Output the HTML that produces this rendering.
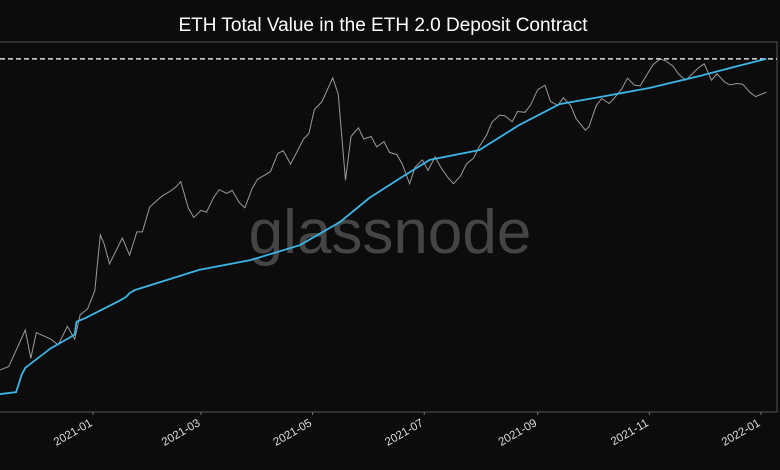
<!DOCTYPE html>
<html><head><meta charset="utf-8"><style>
html,body{margin:0;padding:0;background:#0c0c0d;}
svg{display:block;font-family:"Liberation Sans","DejaVu Sans",sans-serif;}
</style></head><body>
<svg id="chart" width="780" height="470" viewBox="0 0 780 470" xmlns="http://www.w3.org/2000/svg">
<rect width="780" height="470" fill="#0c0c0d"/>
<text x="383" y="31" fill="#ffffff" font-size="19" text-anchor="middle">ETH Total Value in the ETH 2.0 Deposit Contract</text>
<rect x="-1" y="42" width="778" height="370" fill="#0c0c0d" stroke="#555" stroke-width="1"/>
<text x="390" y="253" fill="#454545" font-size="62" text-anchor="middle">glassnode</text>
<g id="marks"></g>
</svg>
<script>
// days from 2021-01-01
const priceDays = [-51,-46,-37,-34,-31,-23,-19,-14,-10,-7,-3,1,4,6,9,13,16,20,24,27,31,34,38,41,45,48,52,55,59,62,66,69,73,76,80,83,87,90,94,97,101,104,108,111,115,118,121,125,131,134,138,141,145,148,152,155,159,162,166,169,173,176,180,183,187,190,194,197,201,204,208,211,215,218,222,225,229,232,236,239,243,247,250,254,257,261,264,269,271,275,278,282,285,289,292,296,299,303,306,310,313,317,320,324,327,331,334,338,341,345,348,352,355,359,362,368];
const priceValues = [477,490,642,520,630,600,575,660,600,720,750,860,1300,1220,1050,1170,1270,1120,1330,1330,1600,1660,1740,1780,1850,1930,1590,1480,1560,1540,1720,1820,1770,1810,1650,1590,1840,1970,2030,2080,2380,2430,2200,2380,2650,2760,3300,3490,4170,3700,1950,2700,2880,2650,2700,2500,2600,2400,2360,2200,1900,2150,2270,2100,2320,2150,1990,1900,2020,2200,2300,2500,2720,3000,3160,3150,3010,3250,3230,3400,3820,3950,3500,3400,3600,3400,3080,2830,2900,3400,3580,3450,3600,3850,4160,3950,3930,4300,4600,4800,4730,4550,4290,4100,4270,4500,4630,4100,4300,4050,3960,4000,3980,3750,3630,3750];
const depositDays = [-51,-42,-39,-37,-23,-13,-10,-9,-4,15,18,20,23,58,86,113,135,151,168,184,211,233,255,277,304,332,354,368];
const depositValues = [0.48,0.53,0.97,1.15,1.65,1.91,2.0,2.32,2.42,2.87,2.95,3.05,3.13,3.64,3.89,4.27,4.86,5.47,5.98,6.44,6.69,7.33,7.86,8.04,8.27,8.58,8.85,9.01];
const tickDays = [0,59,120,181,243,304,365];
const tickLabels = ["2021-01","2021-03","2021-05","2021-07","2021-09","2021-11","2022-01"];

const NS="http://www.w3.org/2000/svg";
const g=document.getElementById('marks');
const xScale=d=>93+d*1.83;
const yPrice=p=>375-(Math.log(p)-6.131)/2.345*316;
const yDep=v=>413-v*39.3;

let pts=priceDays.map((d,i)=>xScale(d).toFixed(1)+','+yPrice(priceValues[i]).toFixed(1)).join(' ');
const pl=document.createElementNS(NS,'polyline');


pl.setAttribute('points',pts);pl.setAttribute('fill','none');pl.setAttribute('stroke','#9a9a9a');pl.setAttribute('stroke-width','1');
g.appendChild(pl);

const maxV=Math.max(...depositValues);
const dl=document.createElementNS(NS,'line');


dl.setAttribute('x1',0);dl.setAttribute('x2',777);dl.setAttribute('y1',yDep(maxV));dl.setAttribute('y2',yDep(maxV));
dl.setAttribute('stroke','#ffffff');dl.setAttribute('stroke-width','1.3');dl.setAttribute('stroke-dasharray','5,3');
g.appendChild(dl);

pts=depositDays.map((d,i)=>xScale(d).toFixed(1)+','+yDep(depositValues[i]).toFixed(1)).join(' ');
const bl=document.createElementNS(NS,'polyline');


bl.setAttribute('points',pts);bl.setAttribute('fill','none');bl.setAttribute('stroke','#3cb6e6');bl.setAttribute('stroke-width','1.8');
g.appendChild(bl);

tickDays.forEach((d,i)=>{
  const x=xScale(d);
  const t=document.createElementNS(NS,'line');
  
  
  t.setAttribute('x1',x);t.setAttribute('x2',x);t.setAttribute('y1',412);t.setAttribute('y2',415);t.setAttribute('stroke','#777');
  g.appendChild(t);
  const tx=document.createElementNS(NS,'text');
  
  
  tx.setAttribute('x',x);tx.setAttribute('y',425);tx.setAttribute('fill','#dddddd');tx.setAttribute('font-size','11.5');
  tx.setAttribute('text-anchor','end');tx.setAttribute('transform','rotate(-30 '+x+' 425)');
  tx.textContent=tickLabels[i];
  g.appendChild(tx);
});
</script>
</body></html>
